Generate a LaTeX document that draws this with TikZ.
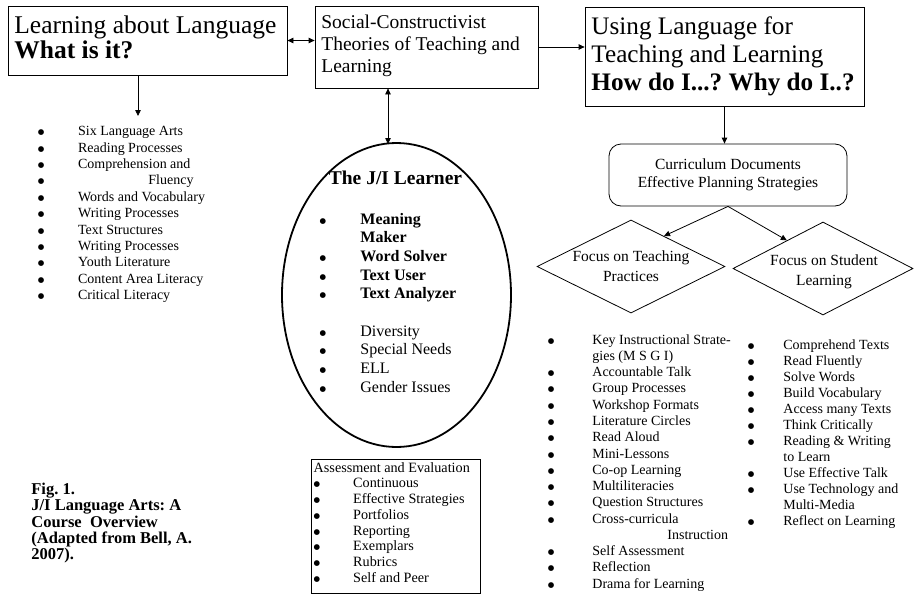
\documentclass[tikz,border=0pt]{standalone}
\usepackage{fontspec}
\setmainfont{Liberation Serif}
\newfontfamily\dotfont{DejaVu Sans}
\usetikzlibrary{arrows.meta,positioning,shapes.geometric,calc}
\frenchspacing

\newcommand{\fsz}[2]{\fontsize{#1}{#2}\selectfont}
\newcommand{\bdot}{\raisebox{1pt}{\dotfont\fontsize{7.5}{8}\selectfont ●}}
\newcommand{\bl}[1]{\makebox[\bgap][l]{\bdot}#1}
\newcommand{\ind}[1]{\hspace*{\bgap}#1}

\begin{document}
\begin{tikzpicture}[x=1pt, y=-1pt, line width=0.8pt, >={Triangle[length=6pt,width=5.5pt]},
  box/.style={draw, inner sep=0pt},
  txt/.style={inner sep=0pt, align=left, anchor=north west},
  lst/.style n args={3}{txt, font=\fsz{#1}{#2}\def\bgap{#3}},
  dia/.style={draw, diamond, inner sep=0pt},
  dtxt/.style={inner sep=0pt, align=center, font=\fsz{15.5}{20}}]
\useasboundingbox (0,0) rectangle (914,608);

% top row
\node[box, minimum width=279pt, minimum height=69pt] (lang) at (147.5,40.5) {};
\node[txt, font=\fsz{25.5}{25}] (langt) at (14,15) {Learning about Language\\\textbf{What is it?}};
\node[box, minimum width=223pt, minimum height=82pt] (soc) at (426.5,47) {};
\node[txt, font=\fsz{19.5}{22}] (soct) at (321,14.7) {Social-Constructivist\\Theories of Teaching and\\Learning};
\node[box, minimum width=279pt, minimum height=99pt] (use) at (724.5,56.5) {};
\node[txt, font=\fsz{25.2}{28}] (uset) at (591,16) {Using Language for\\Teaching and Learning\\\textbf{How do I...? Why do I..?}};

\draw[<->] (lang.east) -- (lang.east -| soc.west);
\draw[->] (soc.east) -- (soc.east -| use.west);

% left column
\coordinate (artsin) at (138,116);
\draw[->] (lang.south -| artsin) -- (artsin);
\node[lst={14}{16.4}{40.2pt}] (arts) at (37.5,126) {\bl{Six Language Arts}\\\bl{Reading Processes}\\
  \bl{Comprehension and}\\\makebox[110.5pt][l]{\bdot}Fluency\\\bl{Words and Vocabulary}\\
  \bl{Writing Processes}\\\bl{Text Structures}\\\bl{Writing Processes}\\\bl{Youth Literature}\\
  \bl{Content Area Literacy}\\\bl{Critical Literacy}};
\node[txt, font=\bfseries\fsz{16.5}{16.3}] (cap) at (31,482.6) {Fig. 1.\\J/I Language Arts: A\\Course~ Overview\\(Adapted from Bell, A.\\2007).};

% the learner
\node[draw, ellipse, line width=1.8pt, minimum width=229pt, minimum height=304pt, inner sep=0pt] (lrn) at (396.5,295) {};
\coordinate (lrnin) at (388,144);
\draw[<->] (soc.south -| lrnin) -- (lrnin);
\node[inner sep=0pt, anchor=base, font=\bfseries\fsz{19.5}{22}] (lrnt) at (395.5,184) {The J/I Learner};
\node[lst={16}{18.65}{40.9pt}] (roles) at (319.1,212.7) {\bl{\textbf{Meaning}}\\\ind{\textbf{Maker}}\\
  \bl{\textbf{Word Solver}}\\\bl{\textbf{Text User}}\\\bl{\textbf{Text Analyzer}}\\[18.6pt]
  \bl{Diversity}\\\bl{Special Needs}\\\bl{ELL}\\\bl{Gender Issues}};

\node[box, minimum width=169pt, minimum height=134pt] (asm) at (395.5,526) {};
\node[lst={14.2}{15.7}{39.5pt}] (asml) at (313.3,462) {Assessment and Evaluation\\\bl{Continuous}\\
  \bl{Effective Strategies}\\\bl{Portfolios}\\\bl{Reporting}\\\bl{Exemplars}\\\bl{Rubrics}\\\bl{Self and Peer}};

% right side
\node[box, rounded corners=12pt, minimum width=238pt, minimum height=62pt, align=center,
  font=\fsz{15.5}{18}] (cur) at (728,175) {Curriculum Documents\\Effective Planning Strategies};
\draw[->] (use.south) -- (use.south |- cur.north);

\node[dia, minimum width=188pt, minimum height=93pt] (tp) at (631,266.5) {};
\node[dtxt] (tpt) at (tp.center) {Focus on Teaching\\Practices};
\node[dia, minimum width=180pt, minimum height=93pt] (sl) at (823,268.5) {};
\node[dtxt] (slt) at ([xshift=1pt, yshift=-3pt]sl.center) {Focus on Student\\Learning};
\coordinate (tpin) at ($(tp.north)!0.35!(tp.east)$);
\coordinate (slin) at ($(sl.north)!0.4!(sl.west)$);
\draw[->] (cur.south) -- (tpin);
\draw[->] (cur.south) -- (slin);

\node[lst={14}{16.27}{44.5pt}] (tpl) at (547.5,334) {\bl{Key Instructional Strate-}\\\ind{gies (M S G I)}\\
  \bl{Accountable Talk}\\\bl{Group Processes}\\\bl{Workshop Formats}\\\bl{Literature Circles}\\
  \bl{Read Aloud}\\\bl{Mini-Lessons}\\\bl{Co-op Learning}\\\bl{Multiliteracies}\\\bl{Question Structures}\\
  \bl{Cross-curricula}\\\hspace*{119.5pt}Instruction\\\bl{Self Assessment}\\\bl{Reflection}\\\bl{Drama for Learning}};
\node[lst={14}{16}{35.5pt}] (sll) at (747.5,339) {\bl{Comprehend Texts}\\\bl{Read Fluently}\\\bl{Solve Words}\\
  \bl{Build Vocabulary}\\\bl{Access many Texts}\\\bl{Think Critically}\\\bl{Reading \& Writing}\\\ind{to Learn}\\
  \bl{Use Effective Talk}\\\bl{Use Technology and}\\\ind{Multi-Media}\\\bl{Reflect on Learning}};
\end{tikzpicture}
\end{document}
